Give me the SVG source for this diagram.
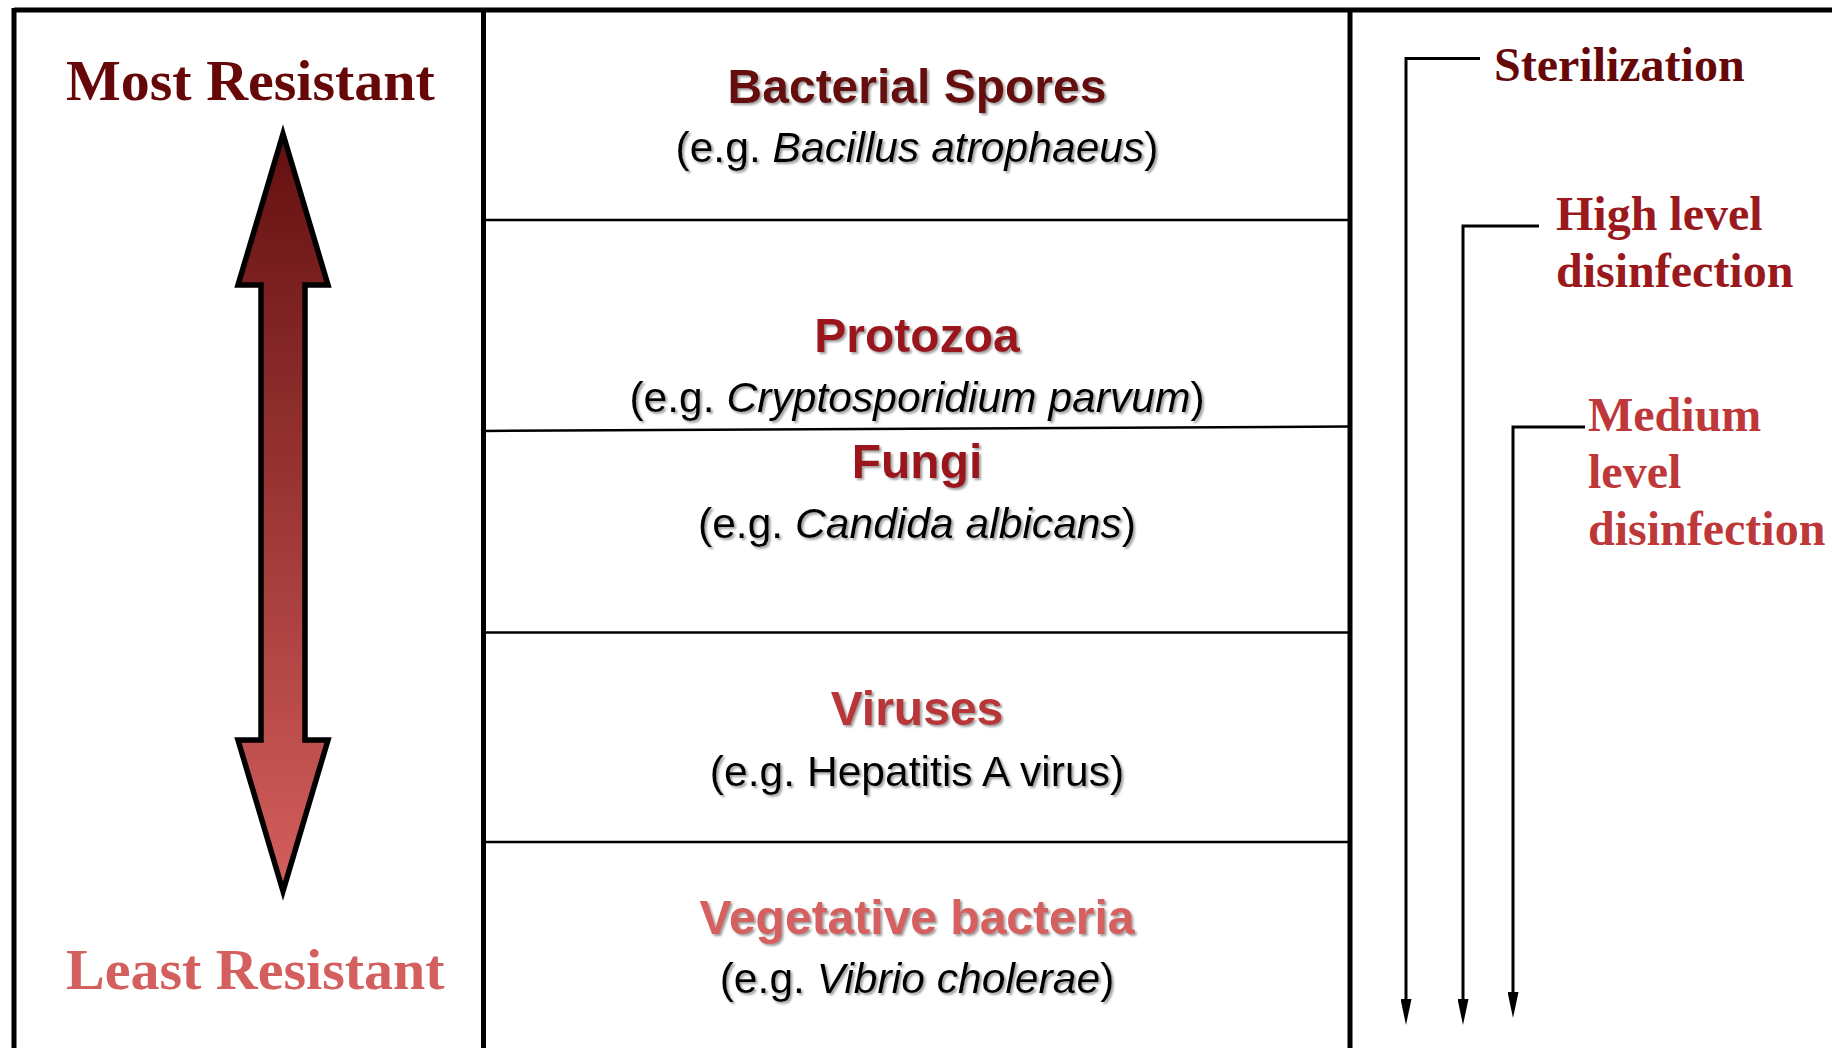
<svg xmlns="http://www.w3.org/2000/svg" width="1832" height="1048" viewBox="0 0 1832 1048">
  <defs>
    <linearGradient id="arrowGrad" gradientUnits="userSpaceOnUse" x1="0" y1="134" x2="0" y2="891">
      <stop offset="0" stop-color="#641010"/>
      <stop offset="1" stop-color="#D45F5C"/>
    </linearGradient>
    <filter id="shadow" x="-5%" y="-20%" width="110%" height="140%">
      <feDropShadow dx="2" dy="2" stdDeviation="0.8" flood-color="#808080" flood-opacity="0.75"/>
    </filter>
    <marker id="head" viewBox="0 0 26 11" markerWidth="26" markerHeight="11" markerUnits="userSpaceOnUse" refX="0" refY="5.5" orient="auto">
      <path d="M0,0 L26,5.5 L0,11 z" fill="#000"/>
    </marker>
    <style>
      .frame { stroke: #000; stroke-width: 5; fill: none; }
      .divider { stroke: #000; stroke-width: 2.5; fill: none; }
      .conn { stroke: #000; stroke-width: 3; fill: none; }
      .serif { font-family: "Liberation Serif", "Times New Roman", serif; font-weight: bold; }
      .big { font-size: 58px; }
      .lvl { font-size: 48px; }
      .title { font-family: "Liberation Sans", Arial, sans-serif; font-weight: bold; font-size: 48px; text-anchor: middle; filter: url(#shadow); }
      .sub { font-family: "Liberation Sans", Arial, sans-serif; font-size: 42.6px; fill: #000; text-anchor: middle; filter: url(#shadow); }
      .it { font-style: italic; }
    </style>
  </defs>

  <rect x="0" y="0" width="1832" height="1048" fill="#fff"/>

  <g id="frame">
    <line class="frame" x1="14" y1="10" x2="1832" y2="10"/>
    <line class="frame" x1="14" y1="8" x2="14" y2="1048"/>
    <line class="frame" x1="483.5" y1="8" x2="483.5" y2="1048"/>
    <line class="frame" x1="1350" y1="8" x2="1350" y2="1048"/>
    <line class="divider" x1="483" y1="220" x2="1350" y2="220"/>
    <line class="divider" x1="483" y1="431" x2="1350" y2="426.5"/>
    <line class="divider" x1="483" y1="632.5" x2="1350" y2="632.5"/>
    <line class="divider" x1="483" y1="842" x2="1350" y2="842"/>
  </g>

  <g id="resistance-scale">
    <text class="serif big" x="66" y="100" fill="#660708">Most Resistant</text>
    <polygon points="283,134 328,285 305,285 305,740 328,740 283,891 238,740 261,740 261,285 238,285" fill="url(#arrowGrad)" stroke="#000" stroke-width="5.5" stroke-linejoin="miter" stroke-miterlimit="10"/>
    <text class="serif big" x="66" y="989" fill="#D45F5F">Least Resistant</text>
  </g>

  <g id="bacterial-spores">
    <text class="title" x="917" y="103" fill="#660708">Bacterial Spores</text>
    <text class="sub" x="917" y="162">(e.g. <tspan class="it">Bacillus atrophaeus</tspan>)</text>
  </g>

  <g id="protozoa">
    <text class="title" x="917" y="352" fill="#9A191D">Protozoa</text>
    <text class="sub" x="917" y="412">(e.g. <tspan class="it">Cryptosporidium parvum</tspan>)</text>
  </g>

  <g id="fungi">
    <text class="title" x="917" y="478" fill="#9A191D">Fungi</text>
    <text class="sub" x="917" y="538">(e.g. <tspan class="it">Candida albicans</tspan>)</text>
  </g>

  <g id="viruses">
    <text class="title" x="917" y="725" fill="#B83438">Viruses</text>
    <text class="sub" x="917" y="786">(e.g. Hepatitis A virus)</text>
  </g>

  <g id="vegetative-bacteria">
    <text class="title" x="917" y="934" fill="#D65F5F">Vegetative bacteria</text>
    <text class="sub" x="917" y="993">(e.g. <tspan class="it">Vibrio cholerae</tspan>)</text>
  </g>

  <g id="sterilization">
    <text class="serif lvl" x="1494" y="81" fill="#660708">Sterilization</text>
  </g>

  <g id="high-level-disinfection">
    <text class="serif lvl" fill="#9A191D"><tspan x="1556" y="230">High level</tspan><tspan x="1556" y="287">disinfection</tspan></text>
  </g>

  <g id="medium-level-disinfection">
    <text class="serif lvl" fill="#BE3739"><tspan x="1588" y="431">Medium</tspan><tspan x="1588" y="488">level</tspan><tspan x="1588" y="545">disinfection</tspan></text>
  </g>

  <g id="connectors">
    <path class="conn" d="M1480,58.5 H1406 V999" marker-end="url(#head)"/>
    <path class="conn" d="M1539,226 H1463 V999" marker-end="url(#head)"/>
    <path class="conn" d="M1585,427 H1513 V992" marker-end="url(#head)"/>
  </g>
</svg>
